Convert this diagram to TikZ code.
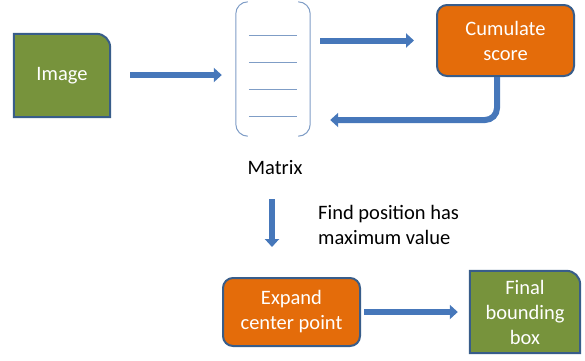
\documentclass[tikz,border=0pt]{standalone}
\usepackage{fontspec}
\setmainfont{Carlito}
\usetikzlibrary{arrows.meta,calc}
\definecolor{boxgreen}{HTML}{77933C}
\definecolor{boxorange}{HTML}{E46C0A}
\definecolor{boxborder}{HTML}{385D8A}
\definecolor{arrblue}{HTML}{4677BA}
\definecolor{matblue}{HTML}{7F9DC6}
\tikzset{
  boxtext/.style={text=white,font=\fontsize{20.5}{25}\selectfont,align=center,inner sep=0pt},
  orangebox/.style={boxtext,fill=boxorange,draw=boxborder,line width=2pt,rounded corners=10pt},
  greenfill/.style={fill=boxgreen,draw=boxborder,line width=2pt},
  arr/.style={draw=arrblue,line width=6pt,-{Triangle[length=8pt,width=14pt]}},
  plaintext/.style={text=black,font=\fontsize{20.5}{24.5}\selectfont,inner sep=0pt},
  matline/.style={draw=matblue,line width=1pt}
}
\begin{document}
\begin{tikzpicture}[x=1pt,y=-1pt]
\useasboundingbox (0,0) rectangle (585,360);
% Image box
\node[boxtext,minimum width=96pt,minimum height=83pt] (img) at (62,75.5) {};
\path[greenfill] (img.south west) -- (img.north west) -- ($(img.north east)+(-14,0)$)
  .. controls ($(img.north east)+(-6,0)$) and ($(img.north east)+(0,6)$) .. ($(img.north east)+(0,14)$)
  -- (img.south east) -- cycle;
\node[boxtext] at (img.center) {Image};
% Matrix
\node[minimum width=74pt,minimum height=134pt,inner sep=0pt] (mat) at (273,69) {};
\draw[matline,rounded corners=12pt] ($(mat.north west)+(12,0)$) -- (mat.north west) -- (mat.south west) -- ($(mat.south west)+(12,0)$);
\draw[matline,rounded corners=12pt] ($(mat.north east)+(-12,0)$) -- (mat.north east) -- (mat.south east) -- ($(mat.south east)+(-12,0)$);
\foreach \yy in {35,62,89,116}{
  \draw[matline] ($(mat.west)+(13,\yy-69)$) -- ($(mat.east)+(-13,\yy-69)$);
}
\node[plaintext] (lbl) at (275,168) {Matrix};
% Cumulate score
\node[orangebox,minimum width=137pt,minimum height=71pt] (cum) at (505.5,40.5) {Cumulate\\score};
% Expand center point
\node[orangebox,minimum width=137pt,minimum height=68pt] (exp) at (291.5,312) {Expand\\center point};
% Final bounding box
\node[boxtext,minimum width=110pt,minimum height=82pt] (fin) at (525,312) {};
\path[greenfill] (fin.south west) -- (fin.north west) -- ($(fin.north east)+(-14,0)$)
  .. controls ($(fin.north east)+(-6,0)$) and ($(fin.north east)+(0,6)$) .. ($(fin.north east)+(0,14)$)
  -- (fin.south east) -- cycle;
\node[boxtext] at (fin.center) {Final\\bounding\\box};
% Find text
\node[plaintext,anchor=west,align=left] (find) at (318,225) {Find position has\\maximum value};
% Arrows
\draw[arr,shorten <=20pt,shorten >=14pt] (img.east |- 0,75) -- (mat.west |- 0,75);
\draw[arr,shorten <=10pt,shorten >=22pt] (mat.east |- cum.west) -- (cum.west);
\draw[arr,rounded corners=12pt,shorten >=20pt] ([xshift=-8.5pt]cum.south) |- ($(mat.east)+(0,51)$);
\draw[arr,shorten <=24pt,shorten >=30pt] ([xshift=-3pt]lbl.south) -- ([xshift=-3pt]lbl.south |- exp.north);
\draw[arr,shorten <=3pt,shorten >=12pt] (exp.east) -- (fin.west);
\end{tikzpicture}
\end{document}
